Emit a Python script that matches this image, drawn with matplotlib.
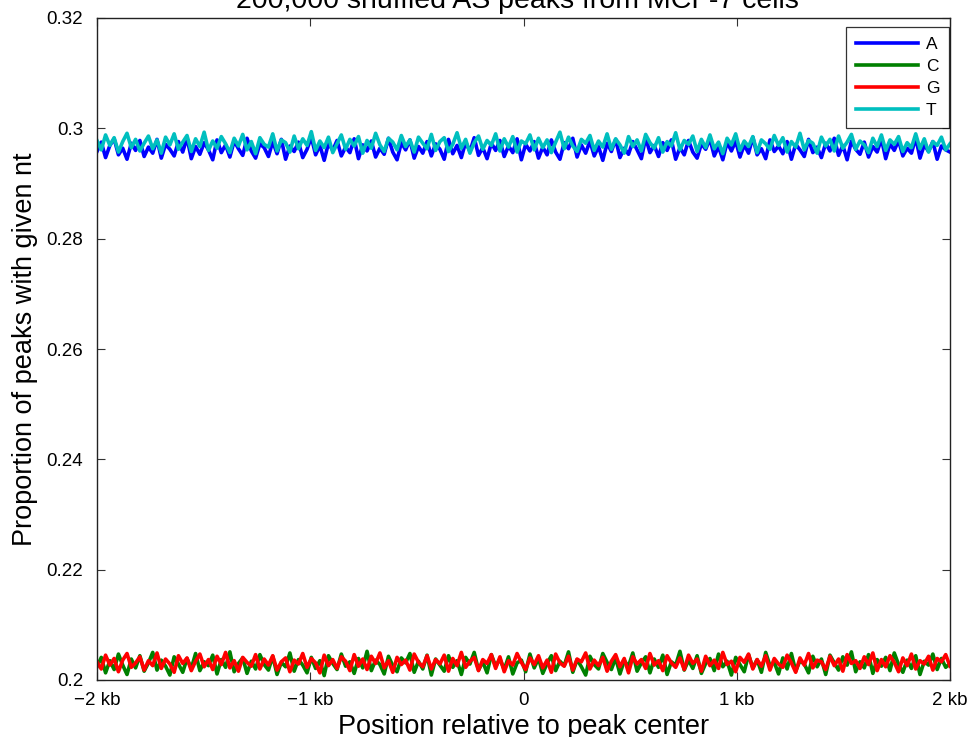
import numpy as np
import matplotlib
matplotlib.use("Agg")
import matplotlib.pyplot as plt

plt.rcParams["font.family"] = ["Liberation Sans", "DejaVu Sans"]

TITLE = "200,000 shuffled AS peaks from MCF-7 cells"
NUCLEOTIDES = ["A", "C", "G", "T"]
COLORS = ["#0000ff", "#008000", "#ff0000", "#00bfbf"]
X_TICKS = [-2000, -1000, 0, 1000, 2000]
X_TICK_LABELS = ["\u22122 kb", "\u22121 kb", "0", "1 kb", "2 kb"]
Y_TICKS = [0.2, 0.22, 0.24, 0.26, 0.28, 0.3, 0.32]
Y_TICK_LABELS = ["0.2", "0.22", "0.24", "0.26", "0.28", "0.3", "0.32"]

prop_A = [
    0.2958, 0.2975, 0.2947, 0.2969, 0.2981, 0.2952, 0.2964, 0.2944, 0.2973, 0.2960, 0.2978, 0.2949, 0.2966, 0.2955, 0.2980, 0.2946, 0.2971, 0.2962, 0.2950, 0.2976,
    0.2957, 0.2983, 0.2945, 0.2967, 0.2953, 0.2974, 0.2961, 0.2943, 0.2979, 0.2956, 0.2970, 0.2948, 0.2977, 0.2963, 0.2951, 0.2982, 0.2959, 0.2946, 0.2972, 0.2965,
    0.2949, 0.2976, 0.2954, 0.2980, 0.2944, 0.2968, 0.2958, 0.2975, 0.2947, 0.2962, 0.2984, 0.2952, 0.2969, 0.2942, 0.2973, 0.2960, 0.2978, 0.2950, 0.2966, 0.2956,
    0.2981, 0.2945, 0.2970, 0.2959, 0.2977, 0.2948, 0.2964, 0.2953, 0.2982, 0.2957, 0.2943, 0.2974, 0.2961, 0.2979, 0.2946, 0.2967, 0.2955, 0.2976, 0.2950, 0.2972,
    0.2962, 0.2944, 0.2980, 0.2954, 0.2969, 0.2947, 0.2975, 0.2958, 0.2983, 0.2951, 0.2965, 0.2945, 0.2973, 0.2960, 0.2978, 0.2949, 0.2968, 0.2956, 0.2981, 0.2943,
    0.2971, 0.2959, 0.2976, 0.2946, 0.2966, 0.2952, 0.2979, 0.2957, 0.2944, 0.2974, 0.2963, 0.2982, 0.2948, 0.2970, 0.2955, 0.2977, 0.2950, 0.2967, 0.2942, 0.2973,
    0.2958, 0.2980, 0.2947, 0.2964, 0.2953, 0.2976, 0.2961, 0.2945, 0.2983, 0.2956, 0.2969, 0.2949, 0.2974, 0.2960, 0.2979, 0.2944, 0.2965, 0.2952, 0.2978, 0.2957,
    0.2946, 0.2972, 0.2962, 0.2981, 0.2950, 0.2967, 0.2943, 0.2975, 0.2959, 0.2977, 0.2948, 0.2970, 0.2955, 0.2984, 0.2952, 0.2963, 0.2945, 0.2979, 0.2958, 0.2968,
    0.2954, 0.2976, 0.2944, 0.2971, 0.2961, 0.2949, 0.2980, 0.2956, 0.2966, 0.2947, 0.2973, 0.2959, 0.2982, 0.2951, 0.2969, 0.2943, 0.2977, 0.2962, 0.2953, 0.2975,
    0.2948, 0.2967, 0.2957, 0.2981, 0.2945, 0.2972, 0.2960, 0.2978, 0.2950, 0.2964, 0.2955, 0.2983, 0.2946, 0.2970, 0.2958, 0.2976, 0.2944, 0.2968, 0.2961, 0.2957,
]
prop_C = [
    0.2024, 0.2041, 0.2013, 0.2035, 0.2019, 0.2047, 0.2027, 0.2010, 0.2038, 0.2022, 0.2044, 0.2016, 0.2031, 0.2050, 0.2018, 0.2036, 0.2025, 0.2009, 0.2042, 0.2029,
    0.2014, 0.2039, 0.2021, 0.2048, 0.2017, 0.2033, 0.2026, 0.2045, 0.2011, 0.2037, 0.2023, 0.2051, 0.2015, 0.2030, 0.2040, 0.2012, 0.2034, 0.2020, 0.2046, 0.2028,
    0.2018, 0.2043, 0.2010, 0.2032, 0.2024, 0.2049, 0.2016, 0.2037, 0.2027, 0.2013, 0.2041, 0.2021, 0.2035, 0.2008, 0.2044, 0.2030, 0.2019, 0.2047, 0.2025, 0.2033,
    0.2012, 0.2039, 0.2022, 0.2052, 0.2017, 0.2036, 0.2028, 0.2011, 0.2043, 0.2026, 0.2015, 0.2040, 0.2031, 0.2048, 0.2014, 0.2034, 0.2020, 0.2045, 0.2009, 0.2038,
    0.2027, 0.2016, 0.2044, 0.2023, 0.2035, 0.2010, 0.2041, 0.2029, 0.2050, 0.2018, 0.2033, 0.2013, 0.2046, 0.2025, 0.2038, 0.2019, 0.2042, 0.2011, 0.2031, 0.2036,
    0.2015, 0.2047, 0.2022, 0.2039, 0.2012, 0.2030, 0.2044, 0.2017, 0.2034, 0.2026, 0.2051, 0.2014, 0.2037, 0.2024, 0.2009, 0.2043, 0.2028, 0.2020, 0.2048, 0.2032,
    0.2019, 0.2040, 0.2011, 0.2035, 0.2025, 0.2049, 0.2016, 0.2031, 0.2042, 0.2013, 0.2038, 0.2023, 0.2045, 0.2010, 0.2033, 0.2027, 0.2052, 0.2018, 0.2036, 0.2021,
    0.2044, 0.2012, 0.2030, 0.2039, 0.2017, 0.2047, 0.2024, 0.2034, 0.2009, 0.2041, 0.2028, 0.2015, 0.2046, 0.2022, 0.2037, 0.2014, 0.2050, 0.2026, 0.2032, 0.2011,
    0.2040, 0.2020, 0.2048, 0.2016, 0.2035, 0.2029, 0.2013, 0.2043, 0.2024, 0.2038, 0.2010, 0.2045, 0.2031, 0.2018, 0.2042, 0.2027, 0.2051, 0.2015, 0.2033, 0.2022,
    0.2046, 0.2012, 0.2037, 0.2025, 0.2041, 0.2017, 0.2049, 0.2028, 0.2014, 0.2036, 0.2021, 0.2044, 0.2010, 0.2034, 0.2027, 0.2047, 0.2019, 0.2039, 0.2023, 0.2030,
]
prop_G = [
    0.2033, 0.2020, 0.2045, 0.2027, 0.2039, 0.2015, 0.2036, 0.2048, 0.2023, 0.2031, 0.2042, 0.2018, 0.2035, 0.2026, 0.2049, 0.2021, 0.2038, 0.2029, 0.2014, 0.2044,
    0.2030, 0.2040, 0.2017, 0.2034, 0.2047, 0.2024, 0.2037, 0.2019, 0.2043, 0.2028, 0.2050, 0.2022, 0.2035, 0.2016, 0.2041, 0.2032, 0.2025, 0.2046, 0.2020, 0.2038,
    0.2027, 0.2044, 0.2018, 0.2033, 0.2040, 0.2015, 0.2036, 0.2029, 0.2048, 0.2023, 0.2039, 0.2031, 0.2013, 0.2045, 0.2026, 0.2037, 0.2021, 0.2042, 0.2034, 0.2017,
    0.2046, 0.2025, 0.2038, 0.2019, 0.2043, 0.2030, 0.2049, 0.2022, 0.2035, 0.2014, 0.2041, 0.2028, 0.2036, 0.2018, 0.2047, 0.2032, 0.2024, 0.2044, 0.2020, 0.2037,
    0.2029, 0.2045, 0.2016, 0.2039, 0.2026, 0.2050, 0.2023, 0.2034, 0.2041, 0.2017, 0.2037, 0.2030, 0.2046, 0.2021, 0.2042, 0.2015, 0.2035, 0.2027, 0.2048, 0.2032,
    0.2019, 0.2040, 0.2028, 0.2044, 0.2022, 0.2036, 0.2014, 0.2047, 0.2031, 0.2025, 0.2043, 0.2018, 0.2038, 0.2033, 0.2049, 0.2020, 0.2036, 0.2026, 0.2041, 0.2016,
    0.2034, 0.2046, 0.2024, 0.2039, 0.2013, 0.2042, 0.2029, 0.2037, 0.2021, 0.2048, 0.2027, 0.2035, 0.2017, 0.2044, 0.2031, 0.2023, 0.2040, 0.2019, 0.2045, 0.2030,
    0.2038, 0.2016, 0.2043, 0.2026, 0.2036, 0.2021, 0.2050, 0.2028, 0.2034, 0.2015, 0.2041, 0.2032, 0.2047, 0.2020, 0.2037, 0.2025, 0.2044, 0.2018, 0.2039, 0.2029,
    0.2023, 0.2045, 0.2031, 0.2014, 0.2040, 0.2027, 0.2048, 0.2022, 0.2036, 0.2033, 0.2019, 0.2043, 0.2026, 0.2038, 0.2016, 0.2046, 0.2030, 0.2035, 0.2021, 0.2042,
    0.2028, 0.2049, 0.2017, 0.2037, 0.2024, 0.2044, 0.2032, 0.2015, 0.2040, 0.2026, 0.2047, 0.2020, 0.2035, 0.2029, 0.2043, 0.2018, 0.2039, 0.2033, 0.2046, 0.2025,
]
prop_T = [
    0.2978, 0.2961, 0.2988, 0.2969, 0.2983, 0.2957, 0.2976, 0.2991, 0.2965, 0.2980, 0.2959, 0.2973, 0.2986, 0.2963, 0.2979, 0.2955, 0.2984, 0.2970, 0.2990, 0.2962,
    0.2975, 0.2987, 0.2958, 0.2981, 0.2967, 0.2993, 0.2960, 0.2977, 0.2964, 0.2985, 0.2972, 0.2956, 0.2982, 0.2968, 0.2989, 0.2961, 0.2976, 0.2954, 0.2983, 0.2971,
    0.2966, 0.2990, 0.2959, 0.2979, 0.2974, 0.2957, 0.2986, 0.2963, 0.2981, 0.2969, 0.2994, 0.2960, 0.2977, 0.2965, 0.2984, 0.2956, 0.2972, 0.2988, 0.2962, 0.2980,
    0.2968, 0.2985, 0.2955, 0.2978, 0.2964, 0.2991, 0.2970, 0.2958, 0.2982, 0.2975, 0.2961, 0.2987, 0.2967, 0.2979, 0.2957, 0.2984, 0.2973, 0.2963, 0.2989, 0.2960,
    0.2976, 0.2983, 0.2958, 0.2971, 0.2992, 0.2964, 0.2980, 0.2955, 0.2974, 0.2986, 0.2962, 0.2978, 0.2969, 0.2990, 0.2959, 0.2981, 0.2966, 0.2985, 0.2957, 0.2977,
    0.2972, 0.2988, 0.2961, 0.2982, 0.2965, 0.2979, 0.2956, 0.2975, 0.2993, 0.2963, 0.2984, 0.2968, 0.2958, 0.2980, 0.2973, 0.2987, 0.2960, 0.2977, 0.2966, 0.2990,
    0.2962, 0.2981, 0.2970, 0.2955, 0.2985, 0.2967, 0.2979, 0.2959, 0.2989, 0.2974, 0.2964, 0.2983, 0.2957, 0.2976, 0.2968, 0.2992, 0.2961, 0.2978, 0.2971, 0.2986,
    0.2958, 0.2980, 0.2965, 0.2988, 0.2963, 0.2975, 0.2954, 0.2982, 0.2970, 0.2990, 0.2960, 0.2977, 0.2967, 0.2985, 0.2956, 0.2979, 0.2972, 0.2962, 0.2987, 0.2969,
    0.2983, 0.2957, 0.2976, 0.2966, 0.2991, 0.2961, 0.2978, 0.2973, 0.2955, 0.2984, 0.2968, 0.2980, 0.2959, 0.2986, 0.2964, 0.2975, 0.2989, 0.2962, 0.2977, 0.2970,
    0.2956, 0.2982, 0.2967, 0.2988, 0.2960, 0.2979, 0.2971, 0.2985, 0.2958, 0.2974, 0.2965, 0.2990, 0.2963, 0.2981, 0.2957, 0.2976, 0.2969, 0.2984, 0.2961, 0.2972,
]

series = [prop_A, prop_C, prop_G, prop_T]

fig = plt.figure(figsize=(9.71, 7.37), dpi=100)
ax = fig.add_axes([97 / 971, 1 - 680 / 737, 853 / 971, 662 / 737])

for name, color, values in zip(NUCLEOTIDES, COLORS, series):
    position = np.linspace(-2000, 2000, len(values))
    ax.plot(position, values, color=color, linewidth=2.6, label=name)

ax.set_xlim(-2000, 2000)
ax.set_ylim(0.2, 0.32)
ax.set_xticks(X_TICKS)
ax.set_xticklabels(X_TICK_LABELS)
ax.set_yticks(Y_TICKS)
ax.set_yticklabels(Y_TICK_LABELS)
ax.tick_params(direction="in", top=True, right=True, length=6, width=0.8,
               labelsize=13.5, color="#333333")
ax.tick_params(axis="y", pad=10)
ax.tick_params(axis="x", pad=8.5)
for spine in ax.spines.values():
    spine.set_linewidth(1.0)
    spine.set_color("#222222")

ax.set_xlabel("Position relative to peak center", fontsize=19.5, labelpad=4)
ax.set_ylabel("Proportion of peaks with given nt", fontsize=19.5, labelpad=6)
fig.text(517 / 971, 1 - 8 / 737, TITLE, fontsize=20.5, ha="center", va="baseline")

leg = ax.legend(loc="upper right", bbox_to_anchor=(949 / 971, 1 - 27 / 737),
                bbox_transform=fig.transFigure, borderaxespad=0,
                fontsize=12.5, frameon=True, fancybox=False,
                edgecolor="black", handlelength=3.6, labelspacing=0.4,
                handletextpad=0.45, borderpad=0.55)
leg.get_frame().set_linewidth(0.9)

fig.savefig("out.png", dpi=100)
